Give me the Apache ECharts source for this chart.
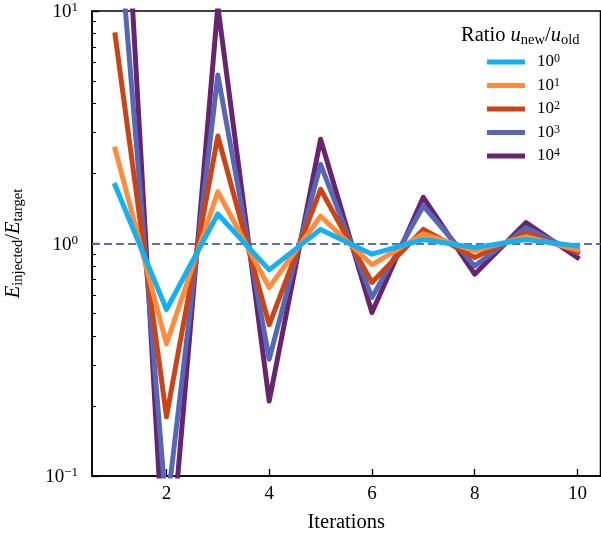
<!DOCTYPE html>
<html>
<head>
<meta charset="utf-8">
<script src="https://cdn.jsdelivr.net/npm/echarts@6/dist/echarts.min.js"></script>
<style>
  html, body { margin: 0; padding: 0; background: #fff; }
  #chart { width: 601px; height: 538px; }
</style>
</head>
<body>
<div id="chart"></div>
<script>
// Injected-to-target energy ratio per iteration, one curve per step ratio u_new/u_old
const iterations = [1, 2, 3, 4, 5, 6, 7, 8, 9, 10];
const ratioExponents = [0, 1, 2, 3, 4];
const ratio1e0 = [1.78, 0.52, 1.34, 0.77, 1.15, 0.90, 1.04, 0.96, 1.04, 0.975];
const ratio1e1 = [2.55, 0.37, 1.67, 0.647, 1.31, 0.81, 1.10, 0.93, 1.07, 0.94];
const ratio1e2 = [7.9, 0.18, 2.90, 0.447, 1.71, 0.68, 1.15, 0.87, 1.11, 0.92];
const ratio1e3 = [35, 0.07, 5.3, 0.318, 2.19, 0.586, 1.45, 0.80, 1.17, 0.91];
const ratio1e4 = [220, 0.027, 10.5, 0.21, 2.81, 0.505, 1.58, 0.738, 1.23, 0.87];
const referenceLevel = 1;

// Axis ticks
const xTicks = [2, 4, 6, 8, 10];
const yMajorTicks = [0.1, 1, 10];
const yMinorTicks = [0.2, 0.3, 0.4, 0.5, 0.6, 0.7, 0.8, 0.9, 2, 3, 4, 5, 6, 7, 8, 9];

const seriesValues = [ratio1e0, ratio1e1, ratio1e2, ratio1e3, ratio1e4];
const colors = ['#12b0f4', '#ff8b3d', '#cc4415', '#5667b8', '#68246f'];

const FONT = '"Liberation Serif", "DejaVu Serif", serif';

function powerLabel(exp) {
  const e = exp < 0 ? '\u2212' + (-exp) : String(exp);
  return '{b|10}{s|' + e + '}';
}

const tickRich = {
  b: { fontFamily: FONT, fontSize: 19, fontWeight: 'normal', color: '#000', lineHeight: 22 },
  s: { fontFamily: FONT, fontSize: 13, fontWeight: 'normal', color: '#000', lineHeight: 12, verticalAlign: 'top' }
};
const legendRich = {
  b: { fontFamily: FONT, fontSize: 17, fontWeight: 'normal', color: '#000', lineHeight: 18 },
  s: { fontFamily: FONT, fontSize: 12, fontWeight: 'normal', color: '#000', lineHeight: 10, verticalAlign: 'top' }
};

const series = seriesValues.map((vals, i) => ({
  name: '10^' + ratioExponents[i],
  type: 'line',
  data: iterations.map((x, k) => [x, vals[k]]),
  showSymbol: false,
  symbol: 'none',
  z: 10 - i,
  clip: true,
  lineStyle: { color: colors[i], width: 5, join: 'round', cap: 'square' },
  itemStyle: { color: colors[i] },
  emphasis: { disabled: true }
}));

// Dashed reference line at E_injected = E_target
series.push({
  name: 'reference',
  type: 'line',
  data: [],
  z: 1,
  markLine: {
    silent: true,
    symbol: 'none',
    label: { show: false },
    lineStyle: { color: '#5566bb', width: 2, type: [8, 4], opacity: 0.95 },
    data: [{ yAxis: referenceLevel }]
  }
});

const chart = echarts.init(document.getElementById('chart'), null, { renderer: 'canvas' });
chart.setOption({
  animation: false,
  backgroundColor: '#fff',
  textStyle: { fontFamily: FONT },
  title: {
    left: 461,
    top: 24,
    padding: 0,
    text: '{t|Ratio }{i|u}{d|new}{t|/}{i|u}{d|old}',
    textStyle: {
      fontWeight: 'normal',
      rich: {
        t: { fontFamily: FONT, fontSize: 20.5, fontWeight: 'normal', color: '#000', lineHeight: 24 },
        i: { fontFamily: FONT, fontSize: 20.5, fontWeight: 'normal', fontStyle: 'italic', color: '#000', lineHeight: 24 },
        d: { fontFamily: FONT, fontSize: 14.5, fontWeight: 'normal', color: '#000', lineHeight: 14, verticalAlign: 'bottom' }
      }
    }
  },
  legend: {
    orient: 'vertical',
    left: 487,
    top: 53,
    padding: 0,
    itemWidth: 38,
    itemHeight: 5,
    itemGap: 6,
    icon: 'rect',
    data: series.slice(0, 5).map(s => s.name),
    formatter: name => powerLabel(Number(name.split('^')[1])),
    textStyle: { padding: [0, 0, 0, 7], rich: legendRich }
  },
  grid: {
    left: 92,
    top: 11,
    right: 0.5,
    bottom: 62,
    containLabel: false,
    outerBoundsMode: 'none',
    show: true,
    borderColor: '#000',
    borderWidth: 1.5,
    backgroundColor: 'transparent'
  },
  xAxis: {
    type: 'value',
    min: 0.55,
    max: 10.45,
    name: 'Iterations',
    nameLocation: 'middle',
    nameGap: 36,
    nameTextStyle: { fontFamily: FONT, fontSize: 20.5, color: '#000' },
    axisLine: { show: true, lineStyle: { color: '#000', width: 1.5 } },
    axisTick: { show: true, inside: true, length: 7, customValues: xTicks, lineStyle: { color: '#000', width: 1.3 } },
    axisLabel: { customValues: xTicks, margin: 9, fontFamily: FONT, fontSize: 19, color: '#000' },
    splitLine: { show: false }
  },
  yAxis: [
    {
      type: 'log',
      logBase: 10,
      min: 0.1,
      max: 10,
      name: '{i|E}{d|injected}{n|/}{i|E}{d|target}',
      nameLocation: 'middle',
      nameGap: 66,
      nameRotate: 90,
      nameTextStyle: {
        rich: {
          i: { fontFamily: FONT, fontSize: 20.5, fontStyle: 'italic', color: '#000', lineHeight: 24 },
          n: { fontFamily: FONT, fontSize: 20.5, color: '#000', lineHeight: 24 },
          d: { fontFamily: FONT, fontSize: 14.5, color: '#000', lineHeight: 14, verticalAlign: 'bottom' }
        }
      },
      axisLine: { show: true, lineStyle: { color: '#000', width: 1.5 } },
      axisTick: { show: true, inside: true, length: 7, customValues: yMajorTicks, lineStyle: { color: '#000', width: 1.3 } },
      axisLabel: {
        customValues: yMajorTicks,
        margin: 14,
        padding: [3, 0, 0, 0],
        formatter: v => powerLabel(Math.round(Math.log10(v))),
        rich: tickRich
      },
      splitLine: { show: false },
      minorTick: { show: false }
    },
    {
      type: 'log',
      logBase: 10,
      min: 0.1,
      max: 10,
      position: 'left',
      axisLine: { show: false },
      axisTick: { show: true, inside: true, length: 4, customValues: yMinorTicks, lineStyle: { color: '#000', width: 1.1 } },
      axisLabel: { show: false },
      splitLine: { show: false }
    }
  ],
  series: series
});
</script>
</body>
</html>
